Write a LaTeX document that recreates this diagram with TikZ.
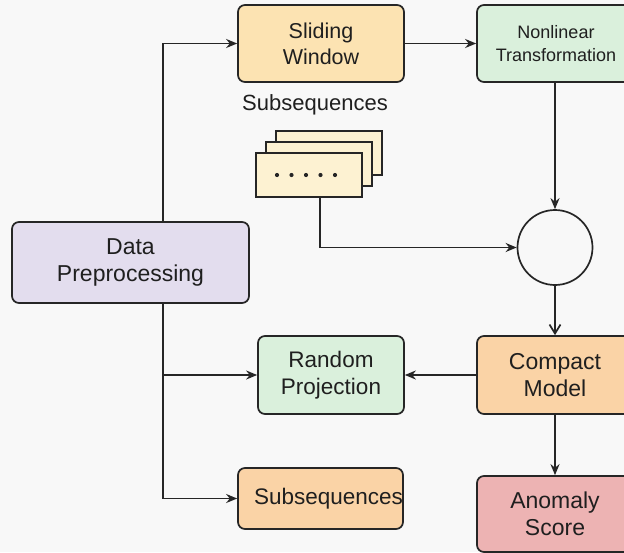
\documentclass[tikz,border=0pt]{standalone}
\usepackage{fontspec}
\setmainfont{Liberation Sans}
\usetikzlibrary{arrows.meta}
\definecolor{ink}{HTML}{262626}
\definecolor{bgc}{HTML}{F8F8F8}
\definecolor{yellowc}{HTML}{FCE3B2}
\definecolor{greenc}{HTML}{DAF0DC}
\definecolor{lilac}{HTML}{E3DDEE}
\definecolor{orangec}{HTML}{FAD3A6}
\definecolor{pinkc}{HTML}{EDB3B3}
\definecolor{creamc}{HTML}{FDF2D2}

\begin{document}
\begin{tikzpicture}[x=1pt, y=-1pt, line width=1.7pt, ink,
    box/.style={draw=ink, rounded corners=7pt, align=center, inner sep=0pt,
        text=black!88, font=\fontsize{22.5}{26.5}\selectfont},
    card/.style={draw=ink, line width=1.5pt, fill=creamc, minimum width=106pt,
        minimum height=44pt, inner sep=0pt},
    arr/.style={-{Stealth[length=11pt, width=9pt]}},
    vee/.style={-{Straight Barb[length=9pt, width=11pt]}}]
    \fill[bgc] (0, 0) rectangle (624, 552);
    \useasboundingbox (0, 0) rectangle (624, 552);

    \node[box, fill=lilac, minimum width=237pt, minimum height=81pt, font=\fontsize{23}{27}\selectfont] (prep) at (130.5, 262.5) {Data\\Preprocessing};
    \node[box, fill=yellowc, minimum width=166pt, minimum height=77pt, font=\fontsize{21.5}{26}\selectfont] (window) at (321, 43.5) {Sliding\\Window};
    \node[box, fill=greenc, minimum width=158pt, minimum height=77pt, font=\fontsize{18}{23}\selectfont] (nonlin) at (556, 43.5) {Nonlinear\\Transformation};

    \node[font=\fontsize{22}{26}\selectfont, text=black!88] (sublabel) at (315, 105) {Subsequences};
    \node[card] (card3) at (329, 153) {};
    \node[card] (card2) at (319, 164) {};
    \node[card] (card1) at (309, 175) {};
    \foreach \i in {-2,...,2}
        \fill (card1.center) ++(\i*14.5 - 3, 0) circle (2.1);

    \node[circle, draw=ink, fill=bgc, minimum size=75pt, inner sep=0pt] (merge) at (555, 247.5) {};

    \node[box, fill=greenc, minimum width=146pt, minimum height=78pt] (rproj) at (331, 375) {Random\\Projection};
    \node[box, fill=orangec, minimum width=156pt, minimum height=78pt, font=\fontsize{23}{27}\selectfont] (compact) at (555, 375) {Compact\\Model};
    \node[box, fill=orangec, minimum width=165pt, minimum height=61pt, font=\fontsize{22.5}{26}\selectfont] (subseq) at (320.5, 498.5) {\hspace*{16pt}Subsequences};
    \node[box, fill=pinkc, minimum width=156pt, minimum height=76pt, font=\fontsize{23}{27}\selectfont] (score) at (555, 514) {Anomaly\\Score};

    \coordinate (trunk) at (163, 0);
    \coordinate (tap) at (320, 0);
    \draw[arr] (prep.north -| trunk) |- (window.west);
    \draw[arr] (prep.south -| trunk) |- (subseq.west);
    \draw[arr] (trunk |- rproj.west) -- (rproj.west);
    \draw[arr] (window.east) -- (nonlin.west);
    \draw[arr] (nonlin.south -| merge.north) -- (merge.north);
    \draw[arr] (card1.south -| tap) |- (merge.west);
    \draw[vee] (merge.south) -- (compact.north);
    \draw[arr] (compact.west) -- (rproj.east);
    \draw[arr] (compact.south) -- (score.north);
\end{tikzpicture}
\end{document}
